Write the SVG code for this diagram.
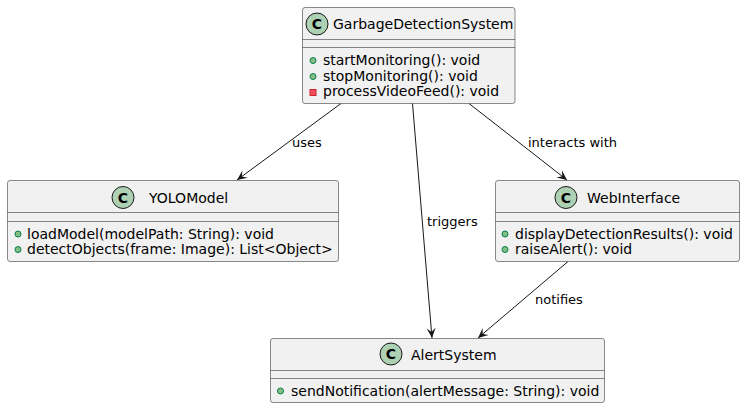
<svg xmlns="http://www.w3.org/2000/svg" width="746" height="408" viewBox="0 0 746 408">
<style>
.box{fill:#F1F1F1;stroke:#181818;stroke-width:0.5}
.sep{stroke:#181818;stroke-width:0.5}
.circ{fill:#ADD1B2;stroke:#181818;stroke-width:1}
.cl{font-family:"DejaVu Sans",sans-serif;font-size:14px;fill:#000}
.cc{font-family:"DejaVu Sans",sans-serif;font-size:14px;font-weight:bold;fill:#000;text-anchor:middle}
.m{font-family:"DejaVu Sans",sans-serif;font-size:14px;fill:#000}
.pub{fill:#84BE84;stroke:#038048;stroke-width:1}
.priv{fill:#F24D5C;stroke:#C82930;stroke-width:1}
.edge{stroke:#181818;stroke-width:1;fill:none}
.lbl{font-family:"DejaVu Sans",sans-serif;font-size:13px;fill:#000}
</style>
<defs>
<marker id="arr" viewBox="0 0 10 10" refX="10" refY="5" markerWidth="10" markerHeight="10" markerUnits="userSpaceOnUse" orient="auto">
<polygon points="10,5 0,0.5 4,5 0,9.5" fill="#181818"/>
</marker>
</defs>
<g id="edges">
<line class="edge" x1="341" y1="103.5" x2="237" y2="180" marker-end="url(#arr)"/>
<text class="lbl" x="292" y="147">uses</text>
<line class="edge" x1="412.5" y1="103.5" x2="432" y2="338" marker-end="url(#arr)"/>
<text class="lbl" x="427" y="226">triggers</text>
<line class="edge" x1="469" y1="103.5" x2="567" y2="180" marker-end="url(#arr)"/>
<text class="lbl" x="528" y="147">interacts with</text>
<line class="edge" x1="568" y1="261.5" x2="478" y2="338" marker-end="url(#arr)"/>
<text class="lbl" x="535" y="304">notifies</text>
</g>
<g id="GarbageDetectionSystem">
<rect class="box" x="302.5" y="7.5" width="212.5" height="96" rx="2.5"/>
<circle class="circ" cx="317" cy="24" r="11"/>
<text class="cc" x="317" y="29">C</text>
<text class="cl" x="333" y="29">GarbageDetectionSystem</text>
<line class="sep" x1="302.5" y1="39.5" x2="515" y2="39.5"/>
<line class="sep" x1="302.5" y1="47.5" x2="515" y2="47.5"/>
<circle class="pub" cx="313" cy="60.5" r="3"/>
<text class="m" x="323" y="65">startMonitoring(): void</text>
<circle class="pub" cx="313" cy="76.5" r="3"/>
<text class="m" x="323" y="81">stopMonitoring(): void</text>
<rect class="priv" x="310" y="89.5" width="6" height="6"/>
<text class="m" x="323" y="96">processVideoFeed(): void</text>
</g>
<g id="YOLOModel">
<rect class="box" x="7.5" y="180.5" width="331" height="81" rx="2.5"/>
<circle class="circ" cx="123" cy="197.5" r="11"/>
<text class="cc" x="123" y="202.5">C</text>
<text class="cl" x="149" y="203">YOLOModel</text>
<line class="sep" x1="7.5" y1="212.5" x2="338.5" y2="212.5"/>
<line class="sep" x1="7.5" y1="221.5" x2="338.5" y2="221.5"/>
<circle class="pub" cx="18" cy="234" r="3"/>
<text class="m" x="27" y="238.5">loadModel(modelPath: String): void</text>
<circle class="pub" cx="18" cy="249.5" r="3"/>
<text class="m" x="27" y="254">detectObjects(frame: Image): List&lt;Object&gt;</text>
</g>
<g id="WebInterface">
<rect class="box" x="495.5" y="180.5" width="244" height="81" rx="2.5"/>
<circle class="circ" cx="566" cy="197.5" r="11"/>
<text class="cc" x="566" y="202.5">C</text>
<text class="cl" x="587" y="203">WebInterface</text>
<line class="sep" x1="495.5" y1="212.5" x2="739.5" y2="212.5"/>
<line class="sep" x1="495.5" y1="221.5" x2="739.5" y2="221.5"/>
<circle class="pub" cx="505" cy="234" r="3"/>
<text class="m" x="515" y="238.5">displayDetectionResults(): void</text>
<circle class="pub" cx="505" cy="249.5" r="3"/>
<text class="m" x="515" y="254">raiseAlert(): void</text>
</g>
<g id="AlertSystem">
<rect class="box" x="270.5" y="338.5" width="334" height="64" rx="2.5"/>
<circle class="circ" cx="391" cy="354" r="11"/>
<text class="cc" x="391" y="359">C</text>
<text class="cl" x="411" y="359.5">AlertSystem</text>
<line class="sep" x1="270.5" y1="370.5" x2="604.5" y2="370.5"/>
<line class="sep" x1="270.5" y1="378.5" x2="604.5" y2="378.5"/>
<circle class="pub" cx="280.5" cy="391" r="3"/>
<text class="m" x="291" y="395.5">sendNotification(alertMessage: String): void</text>
</g>
</svg>
